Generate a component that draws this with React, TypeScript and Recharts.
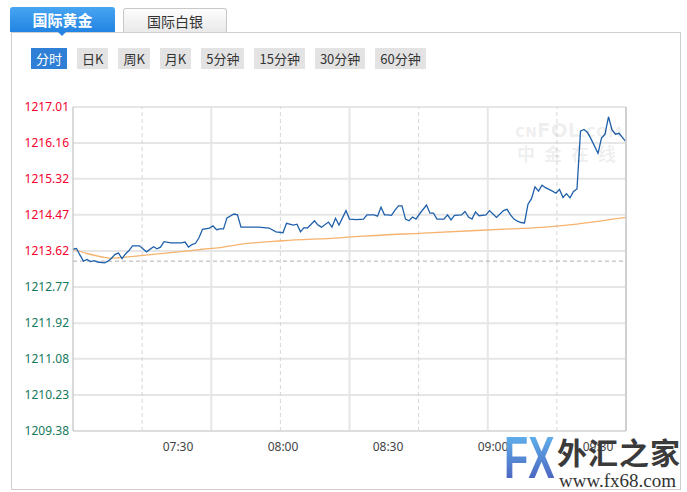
import React from "react"
import { LineChart, Line, XAxis, YAxis, CartesianGrid, ReferenceLine } from "recharts"

const PREV_CLOSE = 1213.38
const X_END = 158 // minutes after 07:00

// minutes after 07:00 and last price
const priceMinutes = [
  0, 1, 2, 3, 4, 5, 6, 7, 9, 10, 11, 12, 13, 14, 15, 16, 17, 19, 21, 23, 24, 25, 26, 28, 31, 32, 33, 34, 35,
  36, 37, 39, 40, 41, 42, 43, 44, 46, 47, 48, 51, 53, 56, 58, 60, 61, 63, 64, 65, 66, 67, 69, 70, 71, 73,
  74, 75, 76, 78, 79, 81, 83, 84, 86, 87, 88, 89, 90, 91, 92, 93, 94, 95, 96, 97, 98, 99, 101, 102, 103,
  104, 106, 107, 108, 109, 111, 112, 113, 114, 115, 116, 118, 119, 120, 121, 123, 124, 125, 126, 127, 128,
  129, 130, 131, 132, 133, 134, 135, 137, 138, 139, 140, 141, 142, 143, 144, 145, 146, 147, 148, 150, 151,
  152, 153, 154, 155, 156, 158,
]
const prices = [
  1213.66, 1213.68, 1213.52, 1213.38, 1213.42, 1213.37, 1213.39, 1213.36, 1213.34, 1213.38, 1213.45,
  1213.54, 1213.57, 1213.44, 1213.55, 1213.63, 1213.74, 1213.74, 1213.6, 1213.72, 1213.67, 1213.71,
  1213.84, 1213.81, 1213.81, 1213.83, 1213.71, 1213.77, 1213.8, 1213.93, 1214.13, 1214.16, 1214.21,
  1214.12, 1214.14, 1214.14, 1214.4, 1214.49, 1214.47, 1214.18, 1214.18, 1214.18, 1214.16, 1214.07,
  1214.05, 1214.27, 1214.23, 1214.25, 1214.07, 1214.17, 1214.16, 1214.33, 1214.23, 1214.18, 1214.3,
  1214.18, 1214.39, 1214.23, 1214.57, 1214.37, 1214.36, 1214.37, 1214.47, 1214.47, 1214.44, 1214.65,
  1214.47, 1214.47, 1214.46, 1214.58, 1214.68, 1214.68, 1214.37, 1214.33, 1214.42, 1214.37, 1214.49,
  1214.7, 1214.51, 1214.51, 1214.37, 1214.37, 1214.47, 1214.35, 1214.46, 1214.47, 1214.55, 1214.42,
  1214.37, 1214.54, 1214.45, 1214.47, 1214.57, 1214.49, 1214.41, 1214.57, 1214.6, 1214.47, 1214.37,
  1214.32, 1214.29, 1214.28, 1214.72, 1214.85, 1215.13, 1215.03, 1215.17, 1215.11, 1215.03, 1214.98,
  1215.07, 1214.88, 1214.97, 1214.87, 1215.02, 1215.08, 1216.44, 1216.48, 1216.41, 1216.26, 1215.92,
  1216.28, 1216.37, 1216.78, 1216.47, 1216.37, 1216.39, 1216.19,
]

// average price line
const avgMinutes = [0, 4, 9, 11, 13, 18, 28, 37, 42, 48, 60, 76, 83, 100, 125, 135, 144, 151, 158]
const avgPrices = [
  1213.66, 1213.56, 1213.47, 1213.45, 1213.46, 1213.5, 1213.58, 1213.66, 1213.7, 1213.78, 1213.86,
  1213.93, 1213.97, 1214.04, 1214.14, 1214.18, 1214.25, 1214.33, 1214.41,
]

const priceTicks = [1217.01, 1216.16, 1215.32, 1214.47, 1213.62, 1212.77, 1211.92, 1211.08, 1210.23, 1209.38]
const pctTicks = [0.3, 0.23, 0.16, 0.09, 0.02, -0.05, -0.12, -0.19, -0.26, -0.33]
const timeTicks = [30, 60, 90, 120, 150]
const timeLabels = ["07:30", "08:00", "08:30", "09:00", "09:30"]

const tabs = ["国际黄金", "国际白银"]
const periods = ["分时", "日K", "周K", "月K", "5分钟", "15分钟", "30分钟", "60分钟"]

const RED = "#f5002c"
const GREEN_L = "#13795c"
const GREEN_R = "#2c8a30"
const CJK = '"Noto Sans CJK SC", "Noto Sans", sans-serif'
const AXIS_FONT = '"Noto Sans", sans-serif'

const PriceTick = (props: any) => {
  const { x, y, payload } = props
  const v = payload.value
  return (
    <text x={x} y={y} dy="0.355em" textAnchor="end" fontSize={12} fontFamily={AXIS_FONT}
      fill={v >= PREV_CLOSE ? RED : GREEN_L}>
      {v.toFixed(2)}
    </text>
  )
}

const PctTick = (props: any) => {
  const { x, y, payload } = props
  const v = payload.value
  return (
    <text x={x} y={y} dy="0.355em" textAnchor="start" fontSize={12} fontFamily={AXIS_FONT}
      fill={v > 0 ? RED : GREEN_R}>
      {(v > 0 ? "+" : "") + v.toFixed(2) + "%"}
    </text>
  )
}

export default function App() {
  const priceData = priceMinutes.map((t, i) => ({ t, price: prices[i] }))
  const avgData = avgMinutes.map((t, i) => ({ t, avg: avgPrices[i] }))
  const gridXs = Array.from({ length: 7 }, (_, i) => ((i + 1) * X_END) / 8)

  return (
    <div style={{ position: "absolute", left: 0, top: 0, width: 687, height: 492, background: "#fff",
      overflow: "hidden", fontFamily: CJK }}>
      {/* panel frame */}
      <div style={{ position: "absolute", left: 11, top: 32, width: 668, height: 456,
        borderLeft: "1px solid #cfcfcf", borderTop: "1px solid #cfcfcf", borderRight: "1px solid #cfcfcf",
        borderBottom: "1px solid #cfcfcf" }} />

      <div style={{ position: "absolute", left: 0, top: 0 }}>
        <LineChart width={687} height={492} data={priceData}
          margin={{ top: 107, right: 6, bottom: 31, left: 8 }}>
          <CartesianGrid vertical={false} stroke="#e6e6e6" strokeWidth={2} />
          {gridXs.map((x, i) => (
            <ReferenceLine key={i} x={x} stroke={i % 2 === 0 ? "#d6d6d6" : "#e6e6e6"}
              strokeWidth={i % 2 === 0 ? 1 : 2} strokeDasharray={i % 2 === 0 ? "4 3" : undefined} />
          ))}
          <XAxis dataKey="t" type="number" domain={[0, X_END]} ticks={timeTicks} interval={0}
            tickFormatter={(v) => timeLabels[timeTicks.indexOf(v)]}
            axisLine={{ stroke: "#dddddd", strokeWidth: 2 }} tickLine={false} tickSize={0} tickMargin={11}
            height={30} tick={{ fill: "#444", fontSize: 12, fontFamily: AXIS_FONT }} />
          <YAxis domain={[1209.38, 1217.01]} ticks={priceTicks} interval={0} width={65}
            axisLine={{ stroke: "#b5b5b5" }} tickLine={false} tickSize={0} tickMargin={4} tick={<PriceTick />} />
          <YAxis yAxisId="pct" orientation="right" domain={[-0.33, 0.3]} ticks={pctTicks} interval={0} width={55}
            axisLine={{ stroke: "#d0d0d0", strokeWidth: 2 }} tickLine={false} tickSize={0} tickMargin={9}
            tick={<PctTick />} />
          <ReferenceLine y={PREV_CLOSE} stroke="#b0b0b0" strokeDasharray="4 3" />
          <Line data={avgData} dataKey="avg" type="monotone" stroke="#f6b36e" strokeWidth={1.3}
            dot={false} activeDot={false} isAnimationActive={false} />
          <Line dataKey="price" type="linear" stroke="#1f60ab" strokeWidth={1.3}
            dot={false} activeDot={false} isAnimationActive={false} />
        </LineChart>
      </div>

      {/* watermark */}
      <div style={{ position: "absolute", left: 515, top: 120, color: "rgba(0,0,0,0.08)", fontWeight: 700,
        fontFamily: '"DejaVu Sans", sans-serif', lineHeight: "20px", whiteSpace: "nowrap" }}>
        <span style={{ fontSize: 14 }}>CN</span>
        <span style={{ fontSize: 20 }}>FOL</span>
        <span style={{ fontSize: 14 }}>.COM</span>
      </div>
      <div style={{ position: "absolute", left: 517, top: 143, color: "rgba(0,0,0,0.08)", fontWeight: 700,
        fontSize: 18, letterSpacing: 9, lineHeight: "20px", whiteSpace: "nowrap" }}>
        中金在线
      </div>

      {/* tabs */}
      <div style={{ position: "absolute", left: 10, top: 7, width: 105, height: 25, borderRadius: "3px 3px 0 0",
        background: "linear-gradient(#47a5f2, #2384e2)", color: "#fff", fontWeight: 700, fontSize: 15,
        lineHeight: "25px", textAlign: "center" }}>
        {tabs[0]}
      </div>
      <div style={{ position: "absolute", left: 58, top: 32, width: 0, height: 0, borderLeft: "4px solid transparent",
        borderRight: "4px solid transparent", borderTop: "4px solid #2384e2" }} />
      <div style={{ position: "absolute", left: 123, top: 8, width: 102, height: 23, borderRadius: "3px 3px 0 0",
        border: "1px solid #c8c8c8", borderBottom: "none", background: "linear-gradient(#fdfdfd, #e9e9e9)",
        color: "#333", fontSize: 14, lineHeight: "24px", textAlign: "center" }}>
        {tabs[1]}
      </div>

      {/* period buttons */}
      <div style={{ position: "absolute", left: 31, top: 48, display: "flex", gap: 10 }}>
        {periods.map((p, i) => (
          <div key={p} style={{ height: 21, lineHeight: "21px", padding: "0 5px", fontSize: 13,
            background: i === 0 ? "#2f7fd6" : "#e3e3e3", color: i === 0 ? "#fff" : "#333" }}>
            {p}
          </div>
        ))}
      </div>

      {/* fx68 logo */}
      <div style={{ position: "absolute", left: 504, top: 428, fontSize: 60, fontWeight: 700, lineHeight: "60px",
        fontFamily: '"Liberation Sans", sans-serif', transform: "scaleX(0.66)", transformOrigin: "left top",
        background: "linear-gradient(#62bdf3, #4a56b8)", WebkitBackgroundClip: "text", backgroundClip: "text",
        color: "transparent" }}>
        FX
      </div>
      <div style={{ position: "absolute", left: 557, top: 436, fontSize: 30, fontWeight: 700, lineHeight: "31px",
        letterSpacing: 1, color: "#3a3a3a", whiteSpace: "nowrap" }}>
        外汇之家
      </div>
      <div style={{ position: "absolute", left: 559, top: 471, fontSize: 19, lineHeight: "19px",
        fontFamily: '"Liberation Serif", serif', color: "#333", whiteSpace: "nowrap" }}>
        www.fx68.com
      </div>
    </div>
  )
}
